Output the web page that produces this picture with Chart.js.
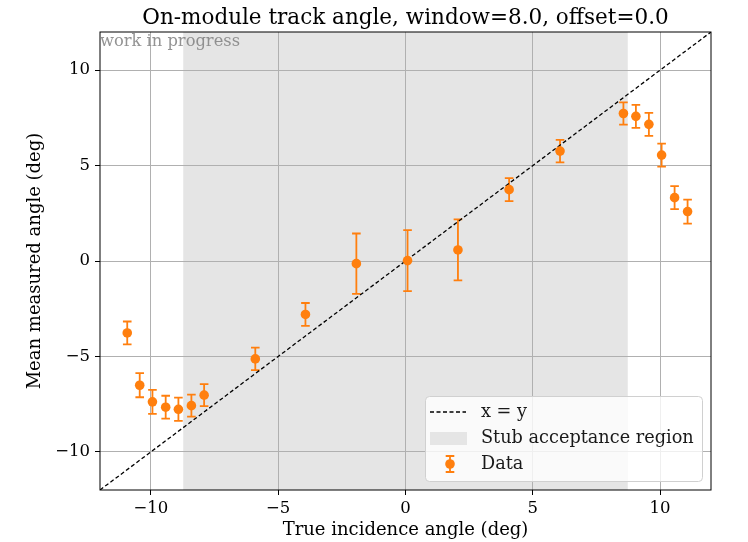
<!DOCTYPE html>
<html>
<head>
<meta charset="utf-8">
<script src="https://cdn.jsdelivr.net/npm/chart.js@4.4.1/dist/chart.umd.min.js"></script>
<style>
  html, body { margin: 0; padding: 0; background: #fff; }
</style>
</head>
<body>
<canvas id="angleChart" width="748" height="542"></canvas>
<script>
// measured points (deg)
const trueAngle = [-10.93, -10.44, -9.94, -9.42, -8.92, -8.41, -7.91, -5.90, -3.93, -1.93,
                   0.08, 2.06, 4.07, 6.07, 8.56, 9.05, 9.56, 10.06, 10.57, 11.08];
const measuredAngle = [-3.77, -6.51, -7.38, -7.66, -7.77, -7.58, -7.03, -5.13, -2.80, -0.14,
                       0.02, 0.58, 3.74, 5.76, 7.73, 7.58, 7.16, 5.55, 3.32, 2.59];
const measuredErr = [0.60, 0.63, 0.63, 0.60, 0.61, 0.58, 0.58, 0.59, 0.60, 1.58,
                     1.60, 1.60, 0.60, 0.59, 0.58, 0.60, 0.60, 0.60, 0.60, 0.63];

const diagLine = [-12, 12];
const acceptanceRegion = [-8.73, 8.73];
const axisRange = [-12, 12];
const axisTicks = [-10, -5, 0, 5, 10];

const ORANGE = '#ff7f0e';
const SHADE = '#e5e5e5';
const FONT = '"DejaVu Serif", serif';

const fmtTick = v => (v < 0 ? '\u2212' + Math.abs(v) : String(v));

// acceptance band behind the grid
const bandPlugin = {
  id: 'band',
  beforeDraw(chart) {
    const {ctx, chartArea: a, scales: {x}} = chart;
    const x0 = x.getPixelForValue(acceptanceRegion[0]);
    const x1 = x.getPixelForValue(acceptanceRegion[1]);
    ctx.save();
    ctx.fillStyle = SHADE;
    ctx.fillRect(x0, a.top, x1 - x0, a.bottom - a.top);
    ctx.restore();
  }
};

function drawErrorBar(ctx, px, top, bot, cap) {
  ctx.beginPath();
  ctx.moveTo(px, top); ctx.lineTo(px, bot);
  ctx.moveTo(px - cap, top); ctx.lineTo(px + cap, top);
  ctx.moveTo(px - cap, bot); ctx.lineTo(px + cap, bot);
  ctx.stroke();
}

const errorBarPlugin = {
  id: 'errorBars',
  beforeDatasetsDraw(chart) {
    const {ctx, scales: {x, y}} = chart;
    ctx.save();
    ctx.strokeStyle = ORANGE;
    ctx.lineWidth = 1.8;
    trueAngle.forEach((a, i) => {
      const px = x.getPixelForValue(a);
      const top = y.getPixelForValue(measuredAngle[i] + measuredErr[i]);
      const bot = y.getPixelForValue(measuredAngle[i] - measuredErr[i]);
      drawErrorBar(ctx, px, top, bot, 4.3);
    });
    ctx.restore();
  }
};

// frame, title, watermark and legend on top
const decorPlugin = {
  id: 'decor',
  afterDraw(chart) {
    const {ctx, chartArea: a} = chart;
    ctx.save();

    ctx.strokeStyle = '#000';
    ctx.lineWidth = 1;
    ctx.strokeRect(a.left, a.top, a.right - a.left, a.bottom - a.top);

    ctx.fillStyle = '#000';
    ctx.font = '21.5px ' + FONT;
    ctx.textAlign = 'center';
    ctx.textBaseline = 'alphabetic';
    ctx.fillText('On-module track angle, window=8.0, offset=0.0', (a.left + a.right) / 2, a.top - 8);

    ctx.fillStyle = 'rgba(128,128,128,0.85)';
    ctx.font = '16.3px ' + FONT;
    ctx.textAlign = 'left';
    ctx.fillText('work in progress', a.left, a.top + 14);

    // legend box
    const w = 277, h = 85;
    const bx = a.right - 9 - w, by = a.bottom - 9 - h;
    ctx.beginPath();
    ctx.roundRect(bx + 0.5, by + 0.5, w, h, 4);
    ctx.fillStyle = 'rgba(255,255,255,0.8)';
    ctx.fill();
    ctx.strokeStyle = '#d0d0d0';
    ctx.lineWidth = 1;
    ctx.stroke();

    const hx = bx + 5, tx = bx + 56;
    const rows = [by + 16, by + 42, by + 68];

    ctx.strokeStyle = '#000';
    ctx.lineWidth = 1.3;
    ctx.setLineDash([4, 2.5]);
    ctx.beginPath();
    ctx.moveTo(hx, rows[0]); ctx.lineTo(hx + 36, rows[0]);
    ctx.stroke();
    ctx.setLineDash([]);

    ctx.fillStyle = SHADE;
    ctx.fillRect(hx, rows[1] - 6, 37, 13);

    ctx.strokeStyle = ORANGE;
    ctx.lineWidth = 1.8;
    drawErrorBar(ctx, hx + 20, rows[2] - 8, rows[2] + 8, 4.3);
    ctx.fillStyle = ORANGE;
    ctx.beginPath();
    ctx.arc(hx + 20, rows[2], 4.8, 0, Math.PI * 2);
    ctx.fill();

    ctx.fillStyle = '#1a1a1a';
    ctx.font = '17.7px ' + FONT;
    ctx.textBaseline = 'middle';
    ctx.fillText('x = y', tx, rows[0]);
    ctx.fillText('Stub acceptance region', tx, rows[1]);
    ctx.fillText('Data', tx, rows[2]);

    ctx.restore();
  }
};

const scaleBase = {
  type: 'linear',
  min: axisRange[0],
  max: axisRange[1],
  afterBuildTicks: s => { s.ticks = axisTicks.map(v => ({value: v})); },
  grid: {
    color: '#b0b0b0',
    lineWidth: 1,
    tickColor: '#000',
    tickLength: 5,
    drawTicks: true
  },
  border: {display: false},
  ticks: {
    color: '#000',
    font: {family: FONT, size: 16.5},
    callback: v => fmtTick(v)
  }
};

new Chart(document.getElementById('angleChart'), {
  type: 'scatter',
  data: {
    datasets: [
      {
        label: 'Data',
        data: trueAngle.map((a, i) => ({x: a, y: measuredAngle[i]})),
        backgroundColor: ORANGE,
        borderWidth: 0,
        pointRadius: 4.8,
        pointHoverRadius: 4.8
      },
      {
        label: 'x = y',
        type: 'line',
        data: diagLine.map(v => ({x: v, y: v})),
        borderColor: '#000',
        borderWidth: 1.3,
        borderDash: [4, 2.5],
        pointRadius: 0,
        fill: false
      }
    ]
  },
  options: {
    responsive: false,
    animation: false,
    layout: {padding: {top: 32, right: 37, left: 0, bottom: 0}},
    plugins: {
      legend: {display: false},
      tooltip: {enabled: false}
    },
    scales: {
      x: {
        ...scaleBase,
        position: 'bottom',
        afterFit: s => { s.height = 52; },
        ticks: {...scaleBase.ticks, padding: 4},
        title: {
          display: true,
          text: 'True incidence angle (deg)',
          color: '#000',
          font: {family: FONT, size: 18},
          padding: {top: 0, bottom: 1}
        }
      },
      y: {
        ...scaleBase,
        position: 'left',
        afterFit: s => { s.width = 100; },
        ticks: {...scaleBase.ticks, padding: 5},
        title: {
          display: true,
          text: 'Mean measured angle (deg)',
          color: '#000',
          font: {family: FONT, size: 18},
          padding: {top: 25, bottom: 0}
        }
      }
    }
  },
  plugins: [bandPlugin, errorBarPlugin, decorPlugin]
});
</script>
</body>
</html>
